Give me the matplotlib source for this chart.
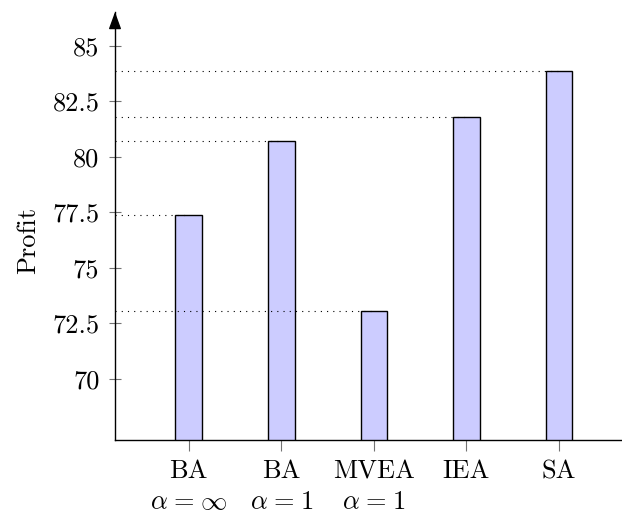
import matplotlib
matplotlib.use("Agg")
import matplotlib.pyplot as plt

plt.rcParams["font.family"] = ["cmr10", "DejaVu Serif"]
plt.rcParams["mathtext.fontset"] = "cm"
plt.rcParams["axes.formatter.use_mathtext"] = True
plt.rcParams["font.size"] = 19

# Data
methods = ["BA\n$\\alpha\\hspace{0.08}=\\hspace{0.08}\\infty$",
           "BA\n$\\alpha\\hspace{0.08}=\\hspace{0.08}1$",
           "MVEA\n$\\alpha\\hspace{0.08}=\\hspace{0.08}1$", "IEA", "SA"]
profit = [77.38, 80.72, 73.07, 81.79, 83.85]
y_ticks = [70, 72.5, 75, 77.5, 80, 82.5, 85]
y_tick_labels = ["70", "72.5", "75", "77.5", "80", "82.5", "85"]

fig = plt.figure(figsize=(6.22, 5.16), dpi=100)
ax = fig.add_axes([115 / 622, 76 / 516, 507 / 622, 428 / 516])

x = list(range(len(methods)))
ax.bar(x, profit, width=0.288, color="#ccccff", edgecolor="black",
       linewidth=1.0, zorder=2)

x_left, x_right = -0.796, 4.68
ax.set_xlim(x_left, x_right)
ax.set_ylim(67.24, 86.52)

# Dotted guide lines from the axis to the top of each bar
for xi, v in zip(x, profit):
    ax.plot([x_left, xi], [v, v], color="black", lw=0.8,
            linestyle=(0, (1, 4.6)), zorder=3, clip_on=False)

ax.set_xticks(x)
ax.set_xticklabels(methods, linespacing=1.4)
ax.set_yticks(y_ticks)
ax.set_yticklabels(y_tick_labels)

ax.tick_params(axis="y", direction="inout", length=8.4, width=0.8,
               color="0.45", pad=7)
ax.tick_params(axis="x", direction="out", length=8, width=0.8,
               color="0.45", pad=6)

for side in ("top", "right"):
    ax.spines[side].set_visible(False)
for side in ("left", "bottom"):
    ax.spines[side].set_linewidth(1.0)
    ax.spines[side].set_color("black")

# Arrow head at the top of the y axis
ax.annotate("", xy=(0, 1.0), xycoords="axes fraction",
            xytext=(0, 0.97), textcoords="axes fraction",
            arrowprops=dict(arrowstyle="-|>,head_length=0.55,head_width=0.2",
                            lw=1.0, color="black", shrinkA=0, shrinkB=0))

ax.set_ylabel("Profit")
ax.yaxis.set_label_coords(-0.148, 0.467)

fig.savefig("out.png", dpi=100)
